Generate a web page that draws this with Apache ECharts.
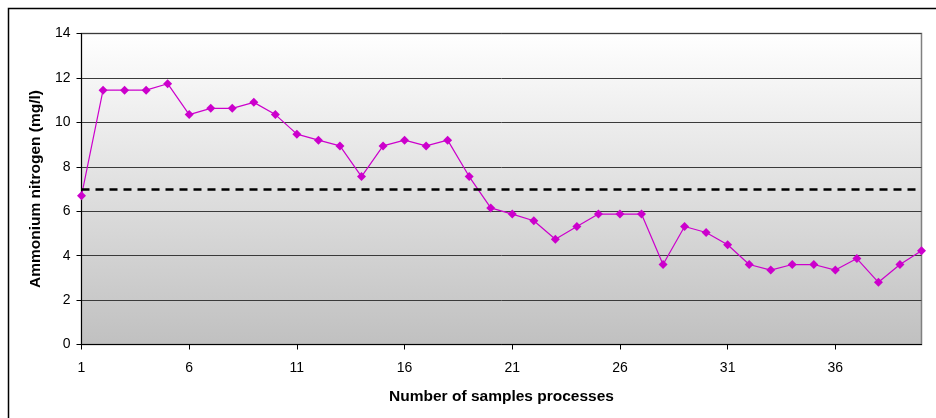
<!DOCTYPE html>
<html>
<head>
<meta charset="utf-8">
<script src="https://cdn.jsdelivr.net/npm/echarts@6/dist/echarts.min.js"></script>
<style>
  html, body { margin: 0; padding: 0; background: #fff; }
  #chart { width: 936px; height: 418px; }
</style>
</head>
<body>
<div id="chart"></div>
<script>
// Sample numbers along the x axis
const samples = Array.from({ length: 40 }, (_, i) => String(i + 1));

// Ammonium nitrogen concentration per sample (mg/l)
const ammonium = [
  6.7, 11.45, 11.45, 11.45, 11.74, 10.35, 10.63, 10.63, 10.9, 10.35,
  9.47, 9.2, 8.94, 7.56, 8.94, 9.2, 8.94, 9.2, 7.56, 6.15,
  5.87, 5.57, 4.74, 5.31, 5.87, 5.87, 5.87, 3.6, 5.31, 5.04,
  4.49, 3.6, 3.35, 3.6, 3.6, 3.35, 3.87, 2.8, 3.6, 4.22
];

// Discharge limit drawn as a dashed reference line
const limit = 7;

const FONT = 'Liberation Sans, Arial, sans-serif';

const chart = echarts.init(document.getElementById('chart'), null, { renderer: 'canvas' });

chart.setOption({
  animation: false,
  backgroundColor: '#ffffff',
  graphic: [{
    type: 'rect',
    shape: { x: 8.5, y: 8.5, width: 960, height: 440 },
    style: { fill: 'none', stroke: '#000', lineWidth: 1.5 },
    z: -1
  }],
  grid: {
    left: 81.5,
    right: 14.5,
    top: 33.5,
    bottom: 73.5,
    show: true,
    borderColor: '#808080',
    borderWidth: 1.5,
    backgroundColor: new echarts.graphic.LinearGradient(0, 0, 0, 1, [
      { offset: 0, color: '#ffffff' },
      { offset: 1, color: '#c0c0c0' }
    ])
  },
  xAxis: {
    type: 'category',
    data: samples,
    boundaryGap: false,
    name: 'Number of samples processes',
    nameLocation: 'middle',
    nameGap: 44,
    nameTextStyle: { fontFamily: FONT, fontSize: 15.5, fontWeight: 'bold', color: '#000' },
    axisLine: { lineStyle: { color: '#000', width: 1 } },
    axisTick: { show: true, interval: 4, length: 5, inside: false, lineStyle: { color: '#000' } },
    axisLabel: { interval: 4, margin: 17, fontFamily: FONT, fontSize: 14, color: '#000' },
    splitLine: { show: false }
  },
  yAxis: {
    type: 'value',
    min: 0,
    max: 14,
    interval: 2,
    name: 'Ammonium nitrogen (mg/l)',
    nameLocation: 'middle',
    nameGap: 37,
    nameTextStyle: { fontFamily: FONT, fontSize: 15.5, fontWeight: 'bold', color: '#000' },
    axisLine: { show: true, lineStyle: { color: '#000', width: 1 } },
    axisTick: { show: true, length: 5, lineStyle: { color: '#000' } },
    axisLabel: { margin: 11, fontFamily: FONT, fontSize: 14, color: '#000' },
    splitLine: { show: true, lineStyle: { color: '#3a3a3a', width: 1 } }
  },
  series: [{
    type: 'line',
    data: ammonium,
    symbol: 'diamond',
    symbolSize: 9,
    showAllSymbol: true,
    lineStyle: { color: '#cc00cc', width: 1.2 },
    itemStyle: { color: '#cc00cc' },
    markLine: {
      silent: true,
      symbol: ['none', 'none'],
      label: { show: false },
      lineStyle: { color: '#000', type: [8, 6], width: 2.5 },
      data: [{ yAxis: limit }]
    },
    z: 3
  }]
});
</script>
</body>
</html>
